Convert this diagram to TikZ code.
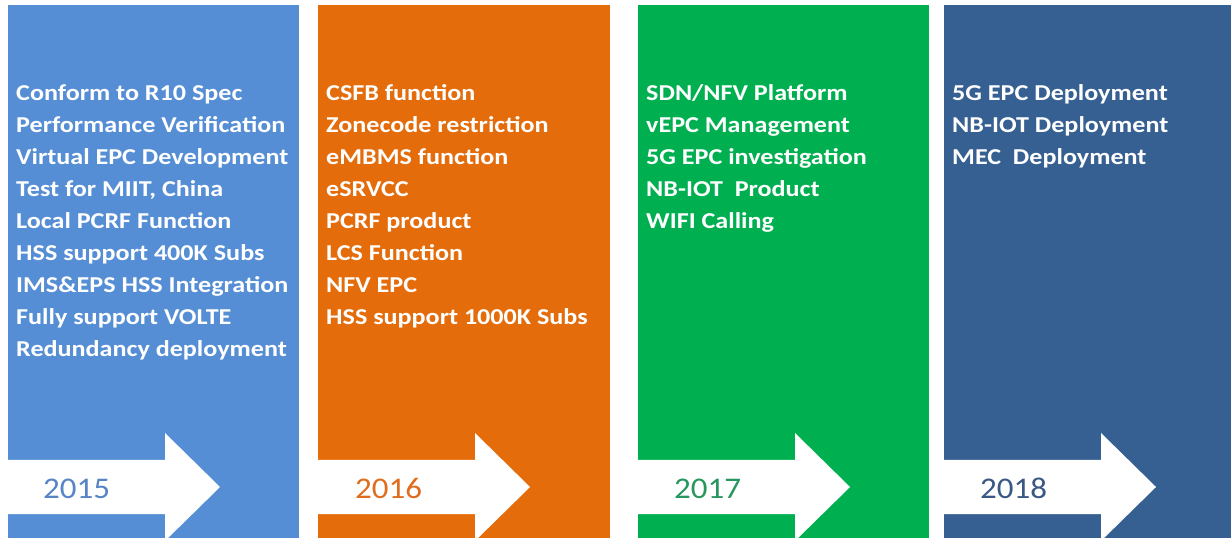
\documentclass[tikz,border=0pt]{standalone}
\usepackage{fontspec}
\setmainfont{Carlito}
\newfontfamily\itemfont[FakeStretch=1.15]{Carlito}
\newfontfamily\yearfont[FakeStretch=1.1]{Carlito}
\definecolor{blueA}{RGB}{85,142,213}
\definecolor{orangeA}{RGB}{228,108,10}
\definecolor{greenA}{RGB}{0,176,80}
\definecolor{navyA}{RGB}{55,96,146}
\definecolor{blueY}{RGB}{86,132,198}
\definecolor{orangeY}{RGB}{222,110,30}
\definecolor{greenY}{RGB}{40,150,95}
\definecolor{navyY}{RGB}{58,88,132}
\begin{document}
\begin{tikzpicture}[x=1pt,y=1pt,
  item/.style={anchor=base west,inner sep=0pt,text=white,font=\itemfont\fontsize{22.7}{26}\selectfont\bfseries},
  year/.style={anchor=base west,inner sep=0pt,font=\yearfont\fontsize{30}{36}\selectfont}]
\useasboundingbox (0,0) rectangle (1231,538);
% columns
\fill[blueA] (8,0) rectangle (299,533);
\fill[orangeA] (318,0) rectangle (610,533);
\fill[greenA] (638,0) rectangle (929,533);
\fill[navyA] (944,0) rectangle (1231,533);
% arrows
\foreach \L in {8,318,638,944}
  \fill[white] (\L-8,24) -- (\L+157,24) -- (\L+157,-3) -- (\L+212,51)
    -- (\L+157,105) -- (\L+157,78) -- (\L-8,78) -- cycle;
\path node[item] (Spec) at (16,437) {Conform to R10 Spec}
node[item] (Perf) at (16,405) {Performance Verification}
node[item] (VEPC) at (16,373) {Virtual EPC Development}
node[item] (MIIT) at (16,341) {Test for MIIT, China}
node[item] (PCRF) at (16,309) {Local PCRF Function}
node[item] (HSSa) at (16,277) {HSS support 400K Subs}
node[item] (IMS) at (16,245) {IMS\&EPS HSS Integration}
node[item] (VOLTE) at (16,213) {Fully support VOLTE}
node[item] (Red) at (16,181) {Redundancy deployment}
node[year,text=blueY] (Ya) at (43,39) {2015}
;
\path node[item] (CSFB) at (326,437) {CSFB function}
node[item] (Zone) at (326,405) {Zonecode restriction}
node[item] (MBMS) at (326,373) {eMBMS function}
node[item] (SRVCC) at (326,341) {eSRVCC}
node[item] (PCRFp) at (326,309) {PCRF product}
node[item] (LCS) at (326,277) {LCS Function}
node[item] (NFV) at (326,245) {NFV EPC}
node[item] (HSSb) at (326,213) {HSS support 1000K Subs}
node[year,text=orangeY] (Yb) at (355,39) {2016}
;
\path node[item] (SDN) at (646,437) {SDN/NFV Platform}
node[item] (vEPC) at (646,405) {vEPC Management}
node[item] (FiveG) at (646,373) {5G EPC investigation}
node[item] (NBIOT) at (646,341) {NB-IOT\ \ Product}
node[item] (WIFI) at (646,309) {WIFI Calling}
node[year,text=greenY] (Yc) at (674,39) {2017}
;
\path node[item] (FiveGD) at (952,437) {5G EPC Deployment}
node[item] (NBD) at (952,405) {NB-IOT Deployment}
node[item] (MEC) at (952,373) {MEC\ \ Deployment}
node[year,text=navyY] (Yd) at (980,39) {2018}
;
\end{tikzpicture}
\end{document}
